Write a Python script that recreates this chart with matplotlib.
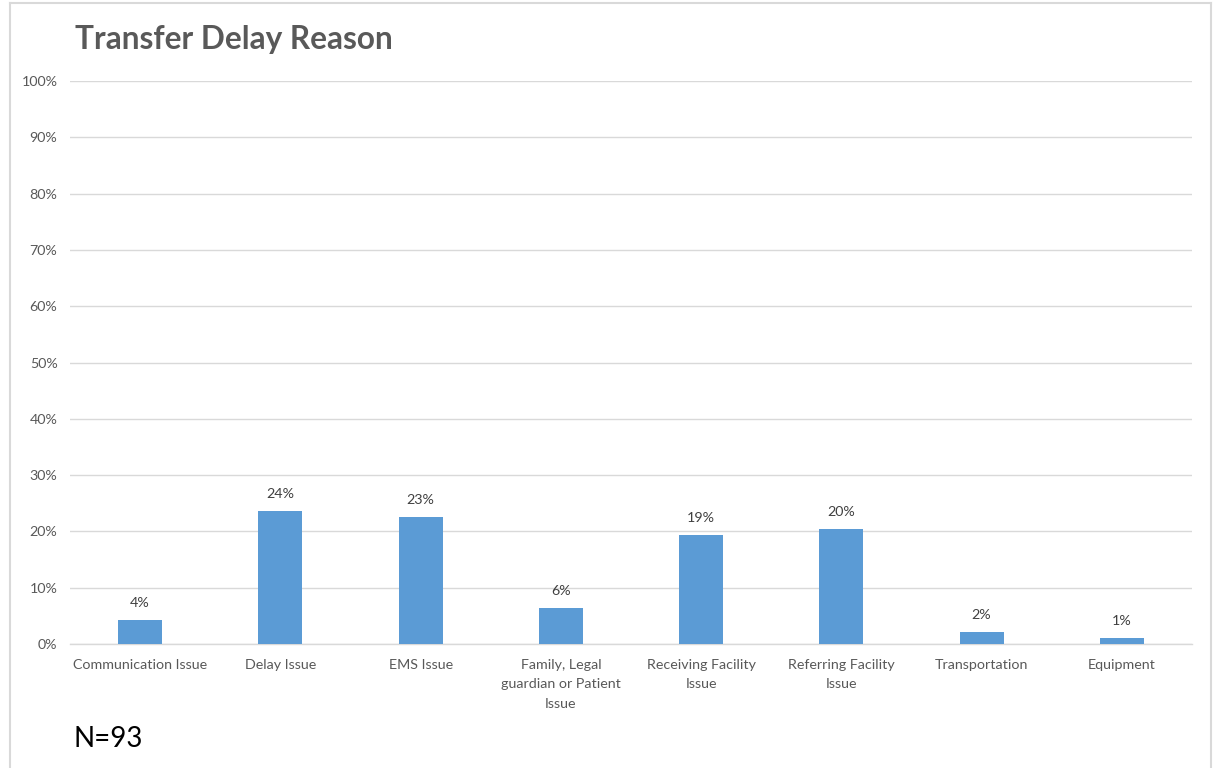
import matplotlib
matplotlib.use("Agg")
import matplotlib.pyplot as plt
from matplotlib.lines import Line2D
from matplotlib.ticker import FuncFormatter

categories = [
    "Communication Issue",
    "Delay Issue",
    "EMS Issue",
    "Family, Legal\nguardian or Patient\nIssue",
    "Receiving Facility\nIssue",
    "Referring Facility\nIssue",
    "Transportation",
    "Equipment",
]
counts = [4, 22, 21, 6, 18, 19, 2, 1]
total = 93
shares = [c / total for c in counts]
yticks = [i / 10 for i in range(11)]

W, H = 1217, 768
fig = plt.figure(figsize=(W / 100, H / 100), dpi=100)
fig.patch.set_facecolor("white")

font = "Lato"
gray = "#595959"
label_size = 10.3

# chart frame
frame_kw = dict(color="#d9d9d9", lw=1.5, transform=fig.transFigure)
fig.add_artist(Line2D([10 / W, 10 / W], [0, 1 - 3 / H], **frame_kw))
fig.add_artist(Line2D([10 / W, 1211 / W], [1 - 3 / H, 1 - 3 / H], **frame_kw))
fig.add_artist(Line2D([1211 / W, 1211 / W], [0, 1 - 3 / H], **frame_kw))

ax = fig.add_axes([70 / W, 1 - 644 / H, (1192 - 70) / W, (644 - 81) / H])
x = list(range(len(categories)))
ax.bar(x, shares, width=0.314, color="#5b9bd5", zorder=3)
ax.set_xlim(-0.5, len(categories) - 0.5)
ax.set_ylim(0, 1)
ax.set_yticks(yticks)
ax.yaxis.set_major_formatter(FuncFormatter(lambda v, _: f"{v:.0%}"))
ax.set_xticks(x)
ax.set_xticklabels(categories, fontfamily=font, fontsize=label_size, color=gray,
                   linespacing=1.72, va="top")
for lbl in ax.get_yticklabels():
    lbl.set_fontfamily(font)
    lbl.set_fontsize(label_size)
    lbl.set_color(gray)
ax.tick_params(axis="x", length=0, pad=11)
ax.tick_params(axis="y", length=0, pad=9)
ax.grid(axis="y", color="#d9d9d9", lw=1, zorder=0)
for side in ["top", "right", "left"]:
    ax.spines[side].set_visible(False)
ax.spines["bottom"].set_color("#d9d9d9")
ax.spines["bottom"].set_linewidth(1)

for xi, s in zip(x, shares):
    ax.annotate(f"{s:.0%}", (xi, s), xytext=(0, 8), textcoords="offset points",
                ha="center", va="bottom", fontfamily=font, fontsize=label_size,
                color="#404040")

fig.text(75 / W, 1 - 39 / H, "Transfer Delay Reason", fontfamily=font,
         fontweight="bold", fontsize=22.8, color=gray, va="center", ha="left")
fig.text(73 / W, 1 - 739 / H, "N=93", fontfamily=font, fontsize=20,
         color="black", va="center", ha="left")

fig.savefig("out.png", dpi=100)
